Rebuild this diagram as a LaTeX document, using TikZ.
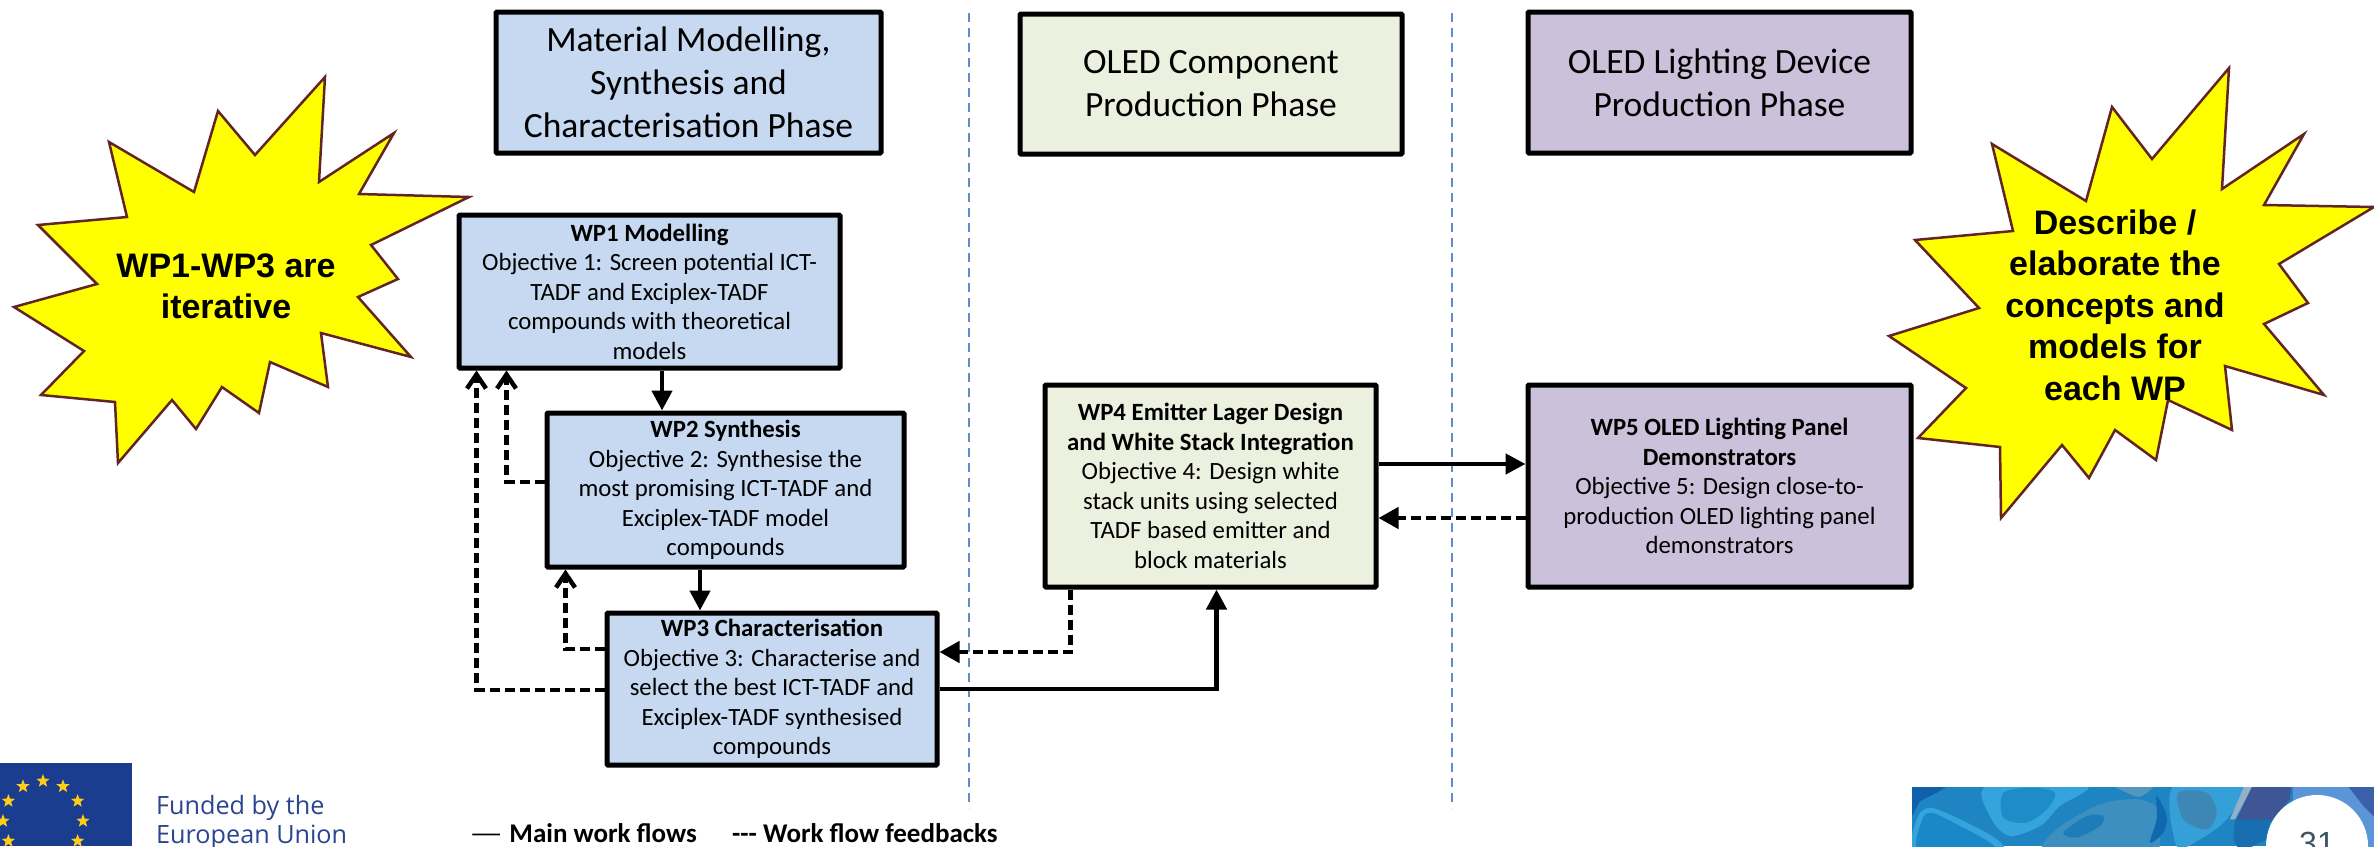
\documentclass[tikz,border=0pt]{standalone}
\usepackage{graphicx}
\usepackage{fontspec}
\setmainfont{Carlito}
\newfontfamily\arialf{Liberation Sans}
\newfontfamily\eufont{Open Sans}
\usetikzlibrary{arrows.meta,shapes.geometric,calc}
\definecolor{wpblue}{HTML}{C6D9F1}
\definecolor{wpgreen}{HTML}{EBF1DE}
\definecolor{wppurple}{HTML}{CCC1DA}
\definecolor{starline}{HTML}{632523}
\definecolor{sepblue}{HTML}{5B8FC9}
\definecolor{eublue}{HTML}{1B3D8F}
\definecolor{eutext}{HTML}{2B4590}
\definecolor{eustarc}{HTML}{FFCC1A}
\definecolor{bursty}{RGB}{255,255,0}
\tikzset{
  box/.style={draw=black,line width=5pt,rounded corners=1pt,align=center,inner sep=0pt},
  phase/.style={box,font=\fontsize{35.5}{43}\selectfont},
  wpbox/.style={box,font=\fontsize{24.8}{29.5}\selectfont},
  flow/.style={line width=4.5pt,-{Triangle[length=20pt,width=20pt]}},
  fbfill/.style={line width=4.5pt,dash pattern=on 10pt off 5pt,-{Triangle[length=20pt,width=21pt]}},
  fbopen/.style={line width=4.5pt,dash pattern=on 10pt off 5pt,-{Straight Barb[length=14pt,width=19pt,line width=4.5pt]}},
  sep/.style={draw=sepblue,line width=2pt,dash pattern=on 9pt off 6pt},
  burst/.style={draw=starline,fill=bursty,line width=2.5pt,line join=miter},
  bursttext/.style={align=center,font=\arialf\bfseries\fontsize{34}{41}\selectfont},
  eustar/.style={star,star points=5,star point ratio=2.4,fill=eustarc,inner sep=0pt,minimum size=14pt},
  eulabel/.style={text=eutext,anchor=base west,inner sep=0pt,font=\eufont\fontsize{25.2}{29}\selectfont},
  legend/.style={anchor=base west,inner sep=0pt,font=\bfseries\fontsize{27}{29}\selectfont}
}
\begin{document}
\begin{tikzpicture}[x=1pt,y=-1pt]
\useasboundingbox (0,0) rectangle (2374,846);
\clip (0,0) rectangle (2374,846);
\fill[white] (0,0) rectangle (2374,846);

% phase boxes
\node[phase,fill=wpblue,minimum width=385pt,minimum height=141pt] (ph1) at (688.5,82.5) {Material Modelling,\\Synthesis and\\Characterisation Phase};
\node[phase,fill=wpgreen,minimum width=382pt,minimum height=140pt] (ph2) at (1211,84) {OLED Component\\Production Phase};
\node[phase,fill=wppurple,minimum width=383pt,minimum height=141pt] (ph3) at (1719.5,82.5) {OLED Lighting Device\\Production Phase};

% separators
\coordinate (s1t) at (969,13); \coordinate (s1b) at (969,808);
\coordinate (s2t) at (1452,13); \coordinate (s2b) at (1452,808);
\draw[sep] (s1t) -- (s1b);
\draw[sep] (s2t) -- (s2b);

% WP boxes
\node[wpbox,fill=wpblue,minimum width=381pt,minimum height=153pt] (wp1) at (649.5,291.5) {\textbf{WP1 Modelling}\\Objective 1: Screen potential ICT-\\TADF and Exciplex-TADF\\compounds with theoretical\\models};
\node[wpbox,fill=wpblue,minimum width=357pt,minimum height=154pt] (wp2) at (725.5,490) {\textbf{WP2 Synthesis}\\Objective 2: Synthesise the\\most promising ICT-TADF and\\Exciplex-TADF model\\compounds};
\node[wpbox,fill=wpblue,minimum width=330pt,minimum height=152pt] (wp3) at (772,689) {\textbf{WP3 Characterisation}\\Objective 3: Characterise and\\select the best ICT-TADF and\\Exciplex-TADF synthesised\\compounds};
\node[wpbox,fill=wpgreen,minimum width=331pt,minimum height=202pt] (wp4) at (1210.5,486) {\textbf{WP4 Emitter Lager Design}\\\textbf{and White Stack Integration}\\Objective 4: Design white\\stack units using selected\\TADF based emitter and\\block materials};
\node[wpbox,fill=wppurple,minimum width=383pt,minimum height=202pt] (wp5) at (1719.5,486) {\textbf{WP5 OLED Lighting Panel}\\\textbf{Demonstrators}\\Objective 5: Design close-to-\\production OLED lighting panel\\demonstrators};

% connectors
\draw[flow] ([xshift=12.5pt]wp1.south) -- ([xshift=12.5pt]wp1.south |- wp2.north);
\draw[flow] ([xshift=-25.5pt]wp2.south) -- ([xshift=-25.5pt]wp2.south |- wp3.north);
\draw[flow] (wp3.east) -| ([xshift=6pt]wp4.south);
\draw[flow] ([yshift=22pt]wp4.east) -- ([yshift=22pt]wp5.west);
\draw[fbopen] ([yshift=-1pt]wp3.west) -| ([xshift=20pt]wp1.south west);
\draw[fbopen] ([yshift=8pt]wp2.west) -| ([xshift=50pt]wp1.south west);
\draw[fbopen] ([yshift=40pt]wp3.west) -| ([xshift=21pt]wp2.south west);
\draw[fbfill] ([xshift=28pt]wp4.south west) |- ([yshift=37pt]wp3.east);
\draw[fbfill] ([yshift=-32pt]wp5.west) -- ([yshift=-32pt]wp4.east);

% bursts
\draw[burst] (325,77)--(319,182)--(394,133)--(359,194)--(469,197)--(371,245)--(398,279)--(358,297)--(411,357)--(321,333)--(328,387)--(270,362)--(259,413)--(222,387)--(196,429)--(172,400)--(118,463)--(115,402)--(41,395)--(84,351)--(14,307)--(97,284)--(38,225)--(127,217)--(109,142)--(194,192)--(218,111)--(255,155)--cycle;
\node[bursttext] (b1) at (226,286) {WP1-WP3 are\\iterative};
\draw[burst] (2229,68)--(2222,189)--(2304,134)--(2264,205)--(2374,207)--(2279,264)--(2308,303)--(2264,324)--(2324,395)--(2225,366)--(2232,430)--(2168,400)--(2156,460)--(2115,430)--(2089,478)--(2062,445)--(2001,518)--(2000,447)--(1918,438)--(1966,388)--(1889,336)--(1979,308)--(1915,240)--(2013,231)--(1992,144)--(2086,201)--(2112,107)--(2152,159)--cycle;
\node[bursttext,font=\arialf\bfseries\fontsize{34}{41.5}\selectfont] (b2) at (2115,305) {Describe /\\elaborate the\\concepts and\\models for\\each WP};

% EU flag
\fill[eublue] (0,763) rectangle (132,846);
\foreach \a in {0,30,...,330}{\node[eustar] (st\a) at ($(43,821)+(\a:40)$) {};}
\node[eulabel] (fund1) at (156,814) {Funded by the};
\node[eulabel] (fund2) at (156,843) {European Union};

% legend
\node[legend] (lg1) at (469,842) {{\mdseries\scalebox{1.4}[1]{—}}\hspace{6pt}Main work flows};
\node[legend] (lg2) at (732,842) {{-}{-}{-} Work flow feedbacks};

% marble strip
\begin{scope}
\clip (1912,787) rectangle (2374,846);
\fill[fill={rgb,255:red,31;green,133;blue,194}] (1912,787) rectangle (2374,846);
\begin{scope}[shift={(1900,776)},x=0.3333pt,y=-0.3333pt]
\fill[fill={rgb,255:red,16;green,96;blue,170}] (30,25) -- (150,25) -- (110,50) -- (60,75) -- (30,130) -- cycle;
\fill[fill={rgb,255:red,52;green,165;blue,220}] plot[smooth cycle] coordinates {(260,30) (560,30) (480,90) (420,150) (330,180) (275,130)};
\fill[fill={rgb,255:red,29;green,140;blue,200}] plot[smooth cycle] coordinates {(310,50) (400,35) (465,50) (440,100) (380,140) (310,125)};
\fill[fill={rgb,255:red,52;green,165;blue,220}] plot[smooth cycle] coordinates {(50,130) (90,95) (180,130) (290,190) (300,230) (50,230)};
\fill[fill={rgb,255:red,25;green,135;blue,200}] plot[smooth cycle] coordinates {(65,135) (95,110) (180,150) (270,200) (280,230) (60,230)};
\fill[fill={rgb,255:red,60;green,143;blue,190}] plot[smooth cycle] coordinates {(470,160) (600,85) (720,70) (790,110) (780,170) (750,230) (440,230)};
\fill[fill={rgb,255:red,30;green,125;blue,185}] plot[smooth cycle] coordinates {(490,170) (560,120) (610,120) (600,150) (530,185)};
\fill[fill={rgb,255:red,16;green,105;blue,175}] plot[smooth cycle] coordinates {(770,60) (800,120) (790,170) (750,200) (770,130)};
\fill[fill={rgb,255:red,85;green,150;blue,190}] plot[smooth cycle] coordinates {(640,25) (760,25) (720,62) (680,50)};
\fill[fill={rgb,255:red,52;green,160;blue,215}] plot[smooth cycle] coordinates {(820,30) (1030,30) (980,130) (900,190) (830,210)};
\fill[fill={rgb,255:red,62;green,135;blue,180}] plot[smooth cycle] coordinates {(835,50) (920,50) (950,110) (920,160) (850,130)};
\fill[fill={rgb,255:red,150;green,175;blue,200}] (1035,25) -- (1060,25) -- (1005,130) -- (990,130) -- cycle;
\fill[fill={rgb,255:red,62;green,85;blue,150}] (1060,25) -- (1175,25) -- (1170,70) -- (1100,150) -- (1010,130) -- cycle;
\fill[fill={rgb,255:red,25;green,110;blue,175}] (1005,130) -- (1110,130) -- (1100,190) -- (1020,230) -- (1000,190) -- cycle;
\fill[fill={rgb,255:red,90;green,150;blue,215}] (1180,25) -- (1430,25) -- (1430,240) -- (1180,240) -- cycle;
\fill[fill={rgb,255:red,60;green,95;blue,170}] (1340,25) -- (1430,25) -- (1430,130) -- (1390,90) -- cycle;
\end{scope}
\fill[white] (2317,846) circle[radius=51pt];
\node[inner sep=0pt,anchor=base,text={rgb,255:red,60;green,85;blue,100},font=\arialf\fontsize{32}{32}\selectfont] (pg) at (2317,854.5) {31};
\end{scope}
\end{tikzpicture}
\end{document}
